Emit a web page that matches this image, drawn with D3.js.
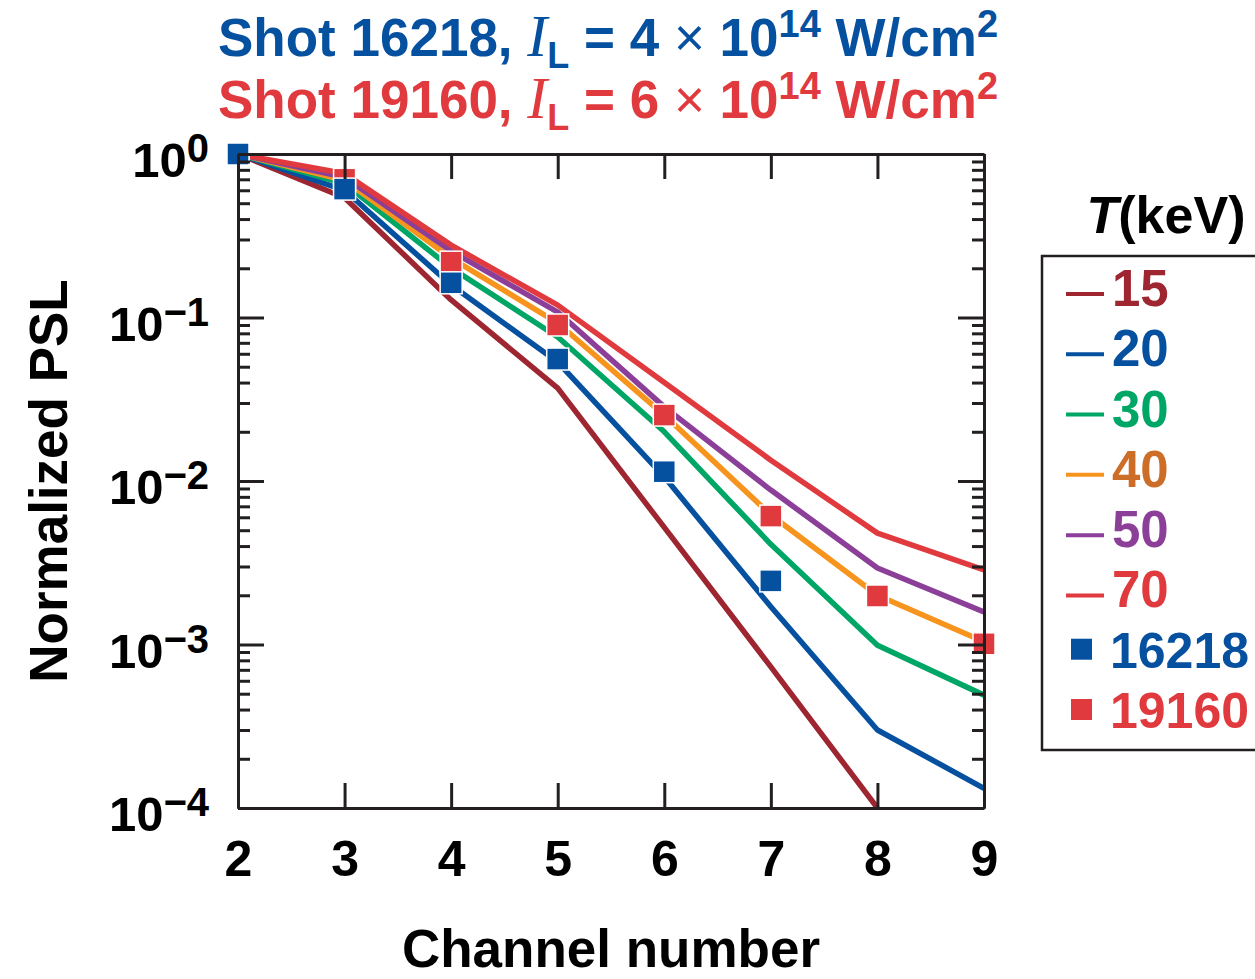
<!DOCTYPE html>
<html>
<head>
<meta charset="utf-8">
<script src="https://cdn.jsdelivr.net/npm/d3@7"></script>
<style>
  body { margin: 0; background: #fff; }
  svg text { font-family: "Liberation Sans", Arial, sans-serif; font-weight: bold; }
  .axis path, .axis line { stroke: #231f20; stroke-width: 3; }
</style>
</head>
<body>
<div id="chart"></div>
<script>
var channels = [2, 3, 4, 5, 6, 7, 8, 9];
var temps = ["15", "20", "30", "40", "50", "70"];

// model curves, one per temperature (keV)
var fit15 = [1, 0.54, 0.128, 0.037, 0.0052, 0.00073, 0.0001];
var fit20 = [1, 0.60, 0.158, 0.0534, 0.0106, 0.0017, 0.0003, 0.000132];
var fit30 = [1, 0.66, 0.201, 0.076, 0.020, 0.0041, 0.00099, 0.00049];
var fit40 = [1, 0.69, 0.231, 0.0925, 0.0253, 0.0062, 0.0020, 0.00104];
var fit50 = [1, 0.72, 0.255, 0.108, 0.0284, 0.0088, 0.00294, 0.00158];
var fit70 = [1, 0.76, 0.277, 0.119, 0.040, 0.0134, 0.0048, 0.00286];

// measured shots
var shot16218 = [1, 0.61, 0.163, 0.0557, 0.0114, 0.00245];
var shot19160 = [1, 0.70, 0.218, 0.090, 0.0253, 0.0061, 0.00198, 0.00101];

var lineColors = ["#9e2630", "#0650a0", "#00a665", "#f7941d", "#8b3f98", "#e03a3e"];
var labelColors = ["#9e2630", "#0650a0", "#00a665", "#cc6e28", "#8b3f98", "#e03a3e"];
var blue = "#0650a0", red = "#e03a3e", ink = "#231f20";

var yTicks = [1, 0.1, 0.01, 0.001, 0.0001];
var yTickPowers = ["0", "\u22121", "\u22122", "\u22123", "\u22124"];

var width = 1255,
    height = 979;

var svg = d3.select("#chart").append("svg")
    .attr("width", width)
    .attr("height", height);

var x = d3.scaleLinear().domain([2, 9]).range([238, 984]);
var y = d3.scaleLog().domain([1e-4, 1]).range([808, 154]);

var minor = [];
for (var k = -4; k < 0; k++) {
    for (var m = 2; m < 10; m++) minor.push(m * Math.pow(10, k));
}

// title
function titleLine(col, yy, num, mult) {
    var t = svg.append("text")
        .attr("x", 218).attr("y", yy)
        .attr("fill", col)
        .style("font-size", "53px");
    t.append("tspan").text("Shot " + num + ", ");
    t.append("tspan").text("I")
        .style("font-family", "'Liberation Serif', 'Times New Roman', serif")
        .style("font-style", "italic").style("font-weight", "normal")
        .style("font-size", "60px");
    t.append("tspan").text("L").attr("dy", 12).style("font-size", "36px");
    t.append("tspan").text(" = " + mult + " ").attr("dy", -12);
    t.append("tspan").text("\u00d7").style("font-weight", "normal");
    t.append("tspan").text(" 10");
    t.append("tspan").text("14").attr("dy", -19).style("font-size", "38px");
    t.append("tspan").text(" W/cm").attr("dy", 19);
    t.append("tspan").text("2").attr("dy", -19).style("font-size", "38px");
}
titleLine(blue, 56, "16218", "4");
titleLine(red, 118, "19160", "6");

// lines
svg.append("clipPath").attr("id", "plot-clip")
    .append("rect").attr("x", 238).attr("y", 150).attr("width", 746).attr("height", 658);

var line = d3.line()
    .x(function(d, i) { return x(channels[i]); })
    .y(function(d) { return y(d); });

var fits = [fit15, fit20, fit30, fit40, fit50, fit70];
svg.append("g").attr("clip-path", "url(#plot-clip)")
    .selectAll("path")
    .data(fits)
    .enter().append("path")
    .attr("d", line)
    .attr("fill", "none")
    .attr("stroke", function(d, i) { return lineColors[i]; })
    .attr("stroke-width", 5.5)
    .attr("stroke-linejoin", "round");

// markers
var ms = 22;
function markers(data, col) {
    svg.append("g").selectAll("rect")
        .data(data)
        .enter().append("rect")
        .attr("x", function(d, i) { return x(channels[i]) - ms / 2; })
        .attr("y", function(d) { return y(d) - ms / 2; })
        .attr("width", ms).attr("height", ms)
        .attr("fill", col)
        .attr("stroke", "#fff")
        .attr("stroke-width", 1.5);
}
markers(shot19160, red);
markers(shot16218, blue);

// frame + ticks (all pointing inward)
svg.append("g").attr("class", "axis").attr("transform", "translate(238,0)")
    .call(d3.axisRight(y).tickValues(yTicks).tickSize(26).tickSizeOuter(0).tickFormat(""));
svg.append("g").attr("class", "axis").attr("transform", "translate(238,0)")
    .call(d3.axisRight(y).tickValues(minor).tickSize(12).tickSizeOuter(0).tickFormat(""));
svg.append("g").attr("class", "axis").attr("transform", "translate(984,0)")
    .call(d3.axisLeft(y).tickValues(yTicks).tickSize(26).tickSizeOuter(0).tickFormat(""));
svg.append("g").attr("class", "axis").attr("transform", "translate(984,0)")
    .call(d3.axisLeft(y).tickValues(minor).tickSize(12).tickSizeOuter(0).tickFormat(""));
svg.append("g").attr("class", "axis").attr("transform", "translate(0,154)")
    .call(d3.axisBottom(x).tickValues(channels).tickSize(25).tickSizeOuter(0).tickFormat(""));
svg.append("g").attr("class", "axis").attr("transform", "translate(0,808)")
    .call(d3.axisTop(x).tickValues(channels).tickSize(25).tickSizeOuter(0).tickFormat(""));

svg.selectAll(".axis line, .axis path").attr("stroke", ink);

// x tick labels
var xLab = svg.append("g").attr("transform", "translate(0,808)")
    .call(d3.axisBottom(x).tickValues(channels).tickSize(0).tickPadding(32).tickFormat(d3.format("d")));
xLab.select(".domain").remove();
xLab.selectAll("text")
    .attr("fill", "#000")
    .style("font-size", "50px")
    .style("font-family", "'Liberation Sans', Arial, sans-serif")
    .style("font-weight", "bold");

// y tick labels, 10^n
var yl = svg.append("g").selectAll("text")
    .data(yTicks)
    .enter().append("text")
    .attr("x", 209)
    .attr("y", function(d) { return y(d) + 23; })
    .attr("text-anchor", "end")
    .attr("fill", "#000")
    .style("font-size", "49px");
yl.append("tspan").text("10");
yl.append("tspan").text(function(d, i) { return yTickPowers[i]; })
    .attr("dy", -15).style("font-size", "40px");

// axis titles
svg.append("text")
    .attr("x", 611).attr("y", 967)
    .attr("text-anchor", "middle")
    .attr("fill", "#000")
    .style("font-size", "53px")
    .text("Channel number");

svg.append("text")
    .attr("transform", "translate(67,481) rotate(-90)")
    .attr("text-anchor", "middle")
    .attr("fill", "#000")
    .style("font-size", "53px")
    .text("Normalized PSL");

// legend
var lt = svg.append("text")
    .attr("x", 1166).attr("y", 233)
    .attr("text-anchor", "middle")
    .attr("fill", "#000")
    .style("font-size", "52px");
lt.append("tspan").text("T").style("font-style", "italic");
lt.append("tspan").text("(keV)");

svg.append("rect")
    .attr("x", 1042).attr("y", 256)
    .attr("width", 240).attr("height", 494)
    .attr("fill", "none")
    .attr("stroke", ink)
    .attr("stroke-width", 2.5);

var rowY = d3.scaleLinear().domain([0, 7]).range([306, 728]);

var legRows = svg.append("g").selectAll("g")
    .data(temps)
    .enter().append("g")
    .attr("transform", function(d, i) { return "translate(0," + rowY(i) + ")"; });
legRows.append("line")
    .attr("x1", 1066).attr("x2", 1104)
    .attr("y1", -12).attr("y2", -12)
    .attr("stroke", function(d, i) { return lineColors[i]; })
    .attr("stroke-width", 4);
legRows.append("text")
    .attr("x", 1112)
    .attr("fill", function(d, i) { return labelColors[i]; })
    .style("font-size", "51px")
    .text(function(d) { return d; });

var shots = [{name: "16218", col: blue}, {name: "19160", col: red}];
var shotRows = svg.append("g").selectAll("g")
    .data(shots)
    .enter().append("g")
    .attr("transform", function(d, i) { return "translate(0," + rowY(i + 6) + ")"; });
shotRows.append("rect")
    .attr("x", 1071).attr("y", -29)
    .attr("width", 21).attr("height", 21)
    .attr("fill", function(d) { return d.col; });
shotRows.append("text")
    .attr("x", 1110)
    .attr("fill", function(d) { return d.col; })
    .style("font-size", "50px")
    .text(function(d) { return d.name; });
</script>
</body>
</html>
